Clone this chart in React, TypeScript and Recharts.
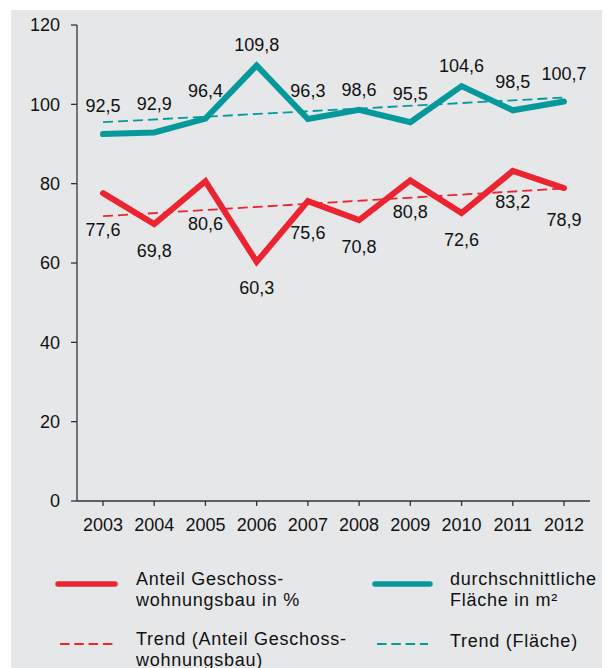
import React from 'react';
import { LineChart, Line, XAxis, YAxis, LabelList } from 'recharts';

const years = ['2003', '2004', '2005', '2006', '2007', '2008', '2009', '2010', '2011', '2012'];
const flaeche = [92.5, 92.9, 96.4, 109.8, 96.3, 98.6, 95.5, 104.6, 98.5, 100.7];
const anteil = [77.6, 69.8, 80.6, 60.3, 75.6, 70.8, 80.8, 72.6, 83.2, 78.9];
const trendFlaeche = [95.5, null, null, null, null, null, null, null, null, 101.7];
const trendAnteil = [71.8, null, null, null, null, null, null, null, null, 78.8];
const yTicks = [0, 20, 40, 60, 80, 100, 120];

const RED = '#ec2330';
const TEAL = '#06999b';
const TEXT = '#111111';
const AXIS = '#333333';
const FONT = '"Liberation Sans", Arial, Helvetica, sans-serif';
const FS = 18;

const Y_MAX = 120;
const PLOT_TOP = 17;
const PLOT_H = 476;
const PX_PER_UNIT = PLOT_H / Y_MAX;

const data = years.map((year, i) => ({
  year,
  flaeche: flaeche[i],
  anteil: anteil[i],
  trendFlaeche: trendFlaeche[i],
  trendAnteil: trendAnteil[i],
}));

const fmt = (v: number) => v.toFixed(1).replace('.', ',');

function trendAt(trend: (number | null)[], i: number) {
  const first = trend[0] as number;
  const last = trend[trend.length - 1] as number;
  return first + ((last - first) * i) / (trend.length - 1);
}

function makeLabel(values: number[], above: boolean, trend: (number | null)[]) {
  return (props: any) => {
    const { x, y, value } = props;
    let index = props.index;
    if (index === undefined || index === null) index = values.indexOf(value);
    if (x == null || y == null || value == null) return null;
    const prev = values[index - 1];
    const next = values[index + 1];
    const isMax = prev !== undefined && next !== undefined && value > prev && value > next;
    const isMin = prev !== undefined && next !== undefined && value < prev && value < next;
    const half = 6.5;
    let cy;
    if (above) {
      cy = y - (isMax ? 20.5 : 28.5);
    } else {
      cy = y + (isMin ? 26 : 31);
      const ty = y + (value - trendAt(trend, index)) * PX_PER_UNIT;
      if (ty > y && cy - half < ty + 3) cy = ty + 7 + half;
    }
    return (
      <text x={x} y={cy} dy="0.36em" textAnchor="middle" fontSize={FS} fill={TEXT} fontFamily={FONT}>
        {fmt(value)}
      </text>
    );
  };
}

const legendText = { letterSpacing: 0.75 } as React.CSSProperties;

export default function App() {
  return (
    <div style={{ position: 'relative', width: 602, height: 660, fontFamily: FONT }}>
      <div style={{ position: 'absolute', left: 3, top: 2, width: 599, height: 658, background: '#e6e7e9' }} />
      <div style={{ position: 'absolute', left: 0, top: 0 }}>
        <LineChart width={602} height={545} data={data} margin={{ top: PLOT_TOP, right: 20, left: 0, bottom: 0 }}>
          <XAxis
            dataKey="year"
            padding={{ left: 26, right: 26 }}
            interval={0}
            tickSize={5}
            tickMargin={12}
            axisLine={{ stroke: AXIS, strokeWidth: 1.3 }}
            tickLine={{ stroke: AXIS, strokeWidth: 1.3 }}
            tick={{ fill: TEXT, fontSize: FS, fontFamily: FONT }}
            height={52}
          />
          <YAxis
            domain={[0, Y_MAX]}
            ticks={yTicks}
            width={69}
            tickSize={6}
            tickMargin={11}
            axisLine={{ stroke: AXIS, strokeWidth: 1.3 }}
            tickLine={{ stroke: AXIS, strokeWidth: 1.3 }}
            tick={{ fill: TEXT, fontSize: FS, fontFamily: FONT }}
          />
          <Line
            type="linear"
            dataKey="trendFlaeche"
            stroke={TEAL}
            strokeWidth={1.8}
            strokeDasharray="10 5"
            connectNulls
            dot={false}
            activeDot={false}
            isAnimationActive={false}
          />
          <Line
            type="linear"
            dataKey="trendAnteil"
            stroke={RED}
            strokeWidth={1.8}
            strokeDasharray="10 5"
            connectNulls
            dot={false}
            activeDot={false}
            isAnimationActive={false}
          />
          <Line
            type="linear"
            dataKey="flaeche"
            stroke={TEAL}
            strokeWidth={6}
            strokeLinecap="round"
            strokeLinejoin="miter"
            dot={false}
            activeDot={false}
            isAnimationActive={false}
          >
            <LabelList dataKey="flaeche" content={makeLabel(flaeche, true, trendFlaeche)} />
          </Line>
          <Line
            type="linear"
            dataKey="anteil"
            stroke={RED}
            strokeWidth={6}
            strokeLinecap="round"
            strokeLinejoin="miter"
            dot={false}
            activeDot={false}
            isAnimationActive={false}
          >
            <LabelList dataKey="anteil" content={makeLabel(anteil, false, trendAnteil)} />
          </Line>
        </LineChart>
      </div>
      <svg style={{ position: 'absolute', left: 0, top: 0 }} width={602} height={660}>
        <g fontFamily={FONT} fontSize={FS} fill={TEXT}>
          <line x1={50} x2={107} y1={576} y2={576} stroke={RED} strokeWidth={5.5} strokeLinecap="round" />
          <text x={128} y={577} style={legendText}>Anteil Geschoss-</text>
          <text x={128} y={598} style={legendText}>wohnungsbau in %</text>
          <line x1={52} x2={105} y1={636} y2={636} stroke={RED} strokeWidth={2} strokeDasharray="9.5 4.8" />
          <text x={128} y={637} style={legendText}>Trend (Anteil Geschoss-</text>
          <text x={128} y={658} style={legendText}>wohnungsbau)</text>
          <line x1={367} x2={422} y1={576} y2={576} stroke={TEAL} strokeWidth={5.5} strokeLinecap="round" />
          <text x={442} y={577} style={legendText}>durchschnittliche</text>
          <text x={442} y={598} style={legendText}>Fläche in m²</text>
          <line x1={369} x2={420} y1={636} y2={636} stroke={TEAL} strokeWidth={2} strokeDasharray="9.5 4.8" />
          <text x={442} y={639} style={legendText}>Trend (Fläche)</text>
        </g>
      </svg>
    </div>
  );
}
